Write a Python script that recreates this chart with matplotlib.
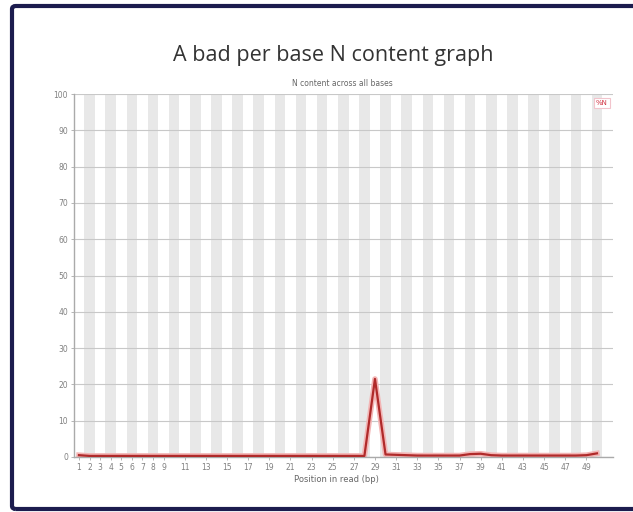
import matplotlib
matplotlib.use("Agg")
import matplotlib.pyplot as plt
from matplotlib.patches import FancyBboxPatch

W, H = 633, 512

positions = list(range(1, 51))
n_percent = [0.5, 0.3, 0.3, 0.3, 0.3, 0.3, 0.3, 0.3, 0.3, 0.3,
             0.3, 0.3, 0.3, 0.3, 0.3, 0.3, 0.3, 0.3, 0.3, 0.3,
             0.3, 0.3, 0.3, 0.3, 0.3, 0.3, 0.3, 0.3, 21.5, 0.7,
             0.6, 0.5, 0.4, 0.4, 0.4, 0.4, 0.4, 0.8, 0.9, 0.5,
             0.4, 0.4, 0.4, 0.4, 0.4, 0.4, 0.4, 0.4, 0.5, 1.0]
x_tick_values = [1, 2, 3, 4, 5, 6, 7, 8, 9] + list(range(11, 50, 2))
x_tick_labels = [str(v) for v in x_tick_values]
y_ticks = list(range(0, 101, 10))

title = "A bad per base N content graph"
subtitle = "N content across all bases"
xlabel = "Position in read (bp)"
legend_label = "%N"

fig = plt.figure(figsize=(W / 100, H / 100), dpi=100)
fig.patch.set_facecolor("white")

# frame
frame = FancyBboxPatch((12 / W, 1 - 509 / H), (660 - 12) / W, (509 - 6) / H,
                       boxstyle="round,pad=0,rounding_size=0.006",
                       transform=fig.transFigure, facecolor="none",
                       edgecolor="#1c1c4e", linewidth=3.0, zorder=5)
fig.patches.append(frame)

x0, x1 = 73.7, 612.8
y_top, y_bot = 94, 457
ax = fig.add_axes([x0 / W, 1 - y_bot / H, (x1 - x0) / W, (y_bot - y_top) / H])
ax.set_facecolor("white")
ax.set_xlim(0.5, 51.5)
ax.set_ylim(0, 100)

for p in positions:
    if p % 2 == 0:
        ax.axvspan(p - 0.5, p + 0.5, color="#e8e8e8", lw=0, zorder=0)

for yv in y_ticks:
    ax.axhline(yv, color="#c8c8c8", lw=0.8, zorder=1)

ax.plot(positions, n_percent, color="#f3b5b5", lw=4.0, zorder=2)
ax.plot(positions, n_percent, color="#b02a2a", lw=1.6, zorder=3)

for s in ["top", "right"]:
    ax.spines[s].set_visible(False)
ax.spines["left"].set_color("#aaaaaa")
ax.spines["bottom"].set_color("#aaaaaa")
ax.spines["left"].set_linewidth(1.0)
ax.spines["bottom"].set_linewidth(1.0)

ax.set_yticks(y_ticks)
ax.set_yticklabels([str(v) for v in y_ticks], fontsize=5.5, color="#808080",
                   family="DejaVu Sans")
ax.set_xticks(x_tick_values)
ax.set_xticklabels(x_tick_labels, fontsize=5.5, color="#808080", family="DejaVu Sans")
ax.tick_params(axis="both", length=2, width=0.6, color="#aaaaaa", pad=2)

fig.text(333 / W, 1 - 56 / H, title, fontsize=15.5, family="Open Sans",
         color="#333333", ha="center", va="center")
fig.text(342 / W, 1 - 83 / H, subtitle, fontsize=5.5, family="DejaVu Sans",
         color="#666666", ha="center", va="center")
fig.text(336 / W, 1 - 480 / H, xlabel, fontsize=6, family="DejaVu Sans",
         color="#666666", ha="center", va="center")
fig.text(602 / W, 1 - 103 / H, legend_label, fontsize=5, family="DejaVu Sans",
         color="#d03040", ha="center", va="center",
         bbox=dict(boxstyle="square,pad=0.3", facecolor="white",
                   edgecolor="#f2c4cc", linewidth=0.8))

fig.savefig("out.png", dpi=100)
